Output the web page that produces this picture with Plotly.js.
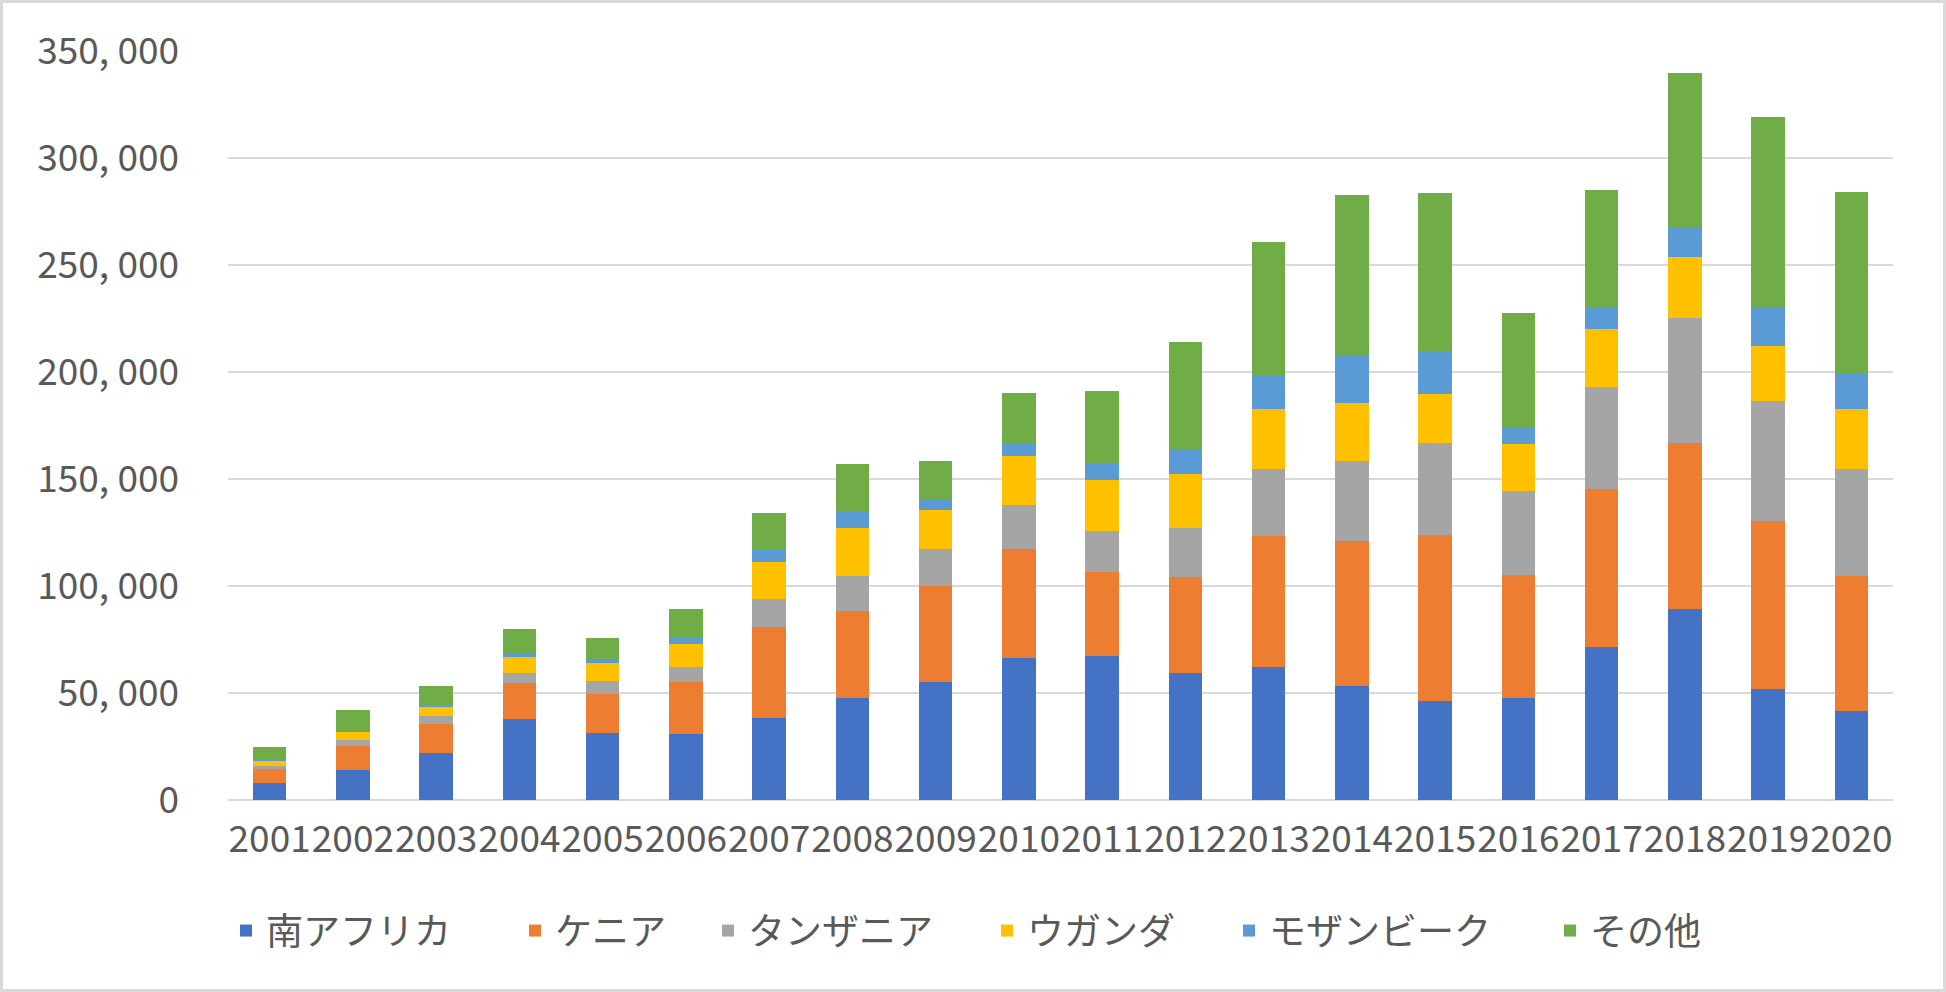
<!DOCTYPE html>
<html>
<head>
<meta charset="utf-8">
<script src="https://cdn.plot.ly/plotly-3.0.1.min.js"></script>
<style>
  html, body { margin: 0; padding: 0; background: #fff; }
  #wrap { position: relative; width: 1946px; height: 992px; }
  #chart { width: 1946px; height: 992px; }
  #frame { position: absolute; left: 0; top: 0; width: 1946px; height: 992px; box-sizing: border-box; border: 3px solid #D9D9D9; pointer-events: none; }
</style>
</head>
<body>
<div id="wrap"><div id="chart"></div><div id="frame"></div></div>
<script>
const years = ['2001','2002','2003','2004','2005','2006','2007','2008','2009','2010','2011','2012','2013','2014','2015','2016','2017','2018','2019','2020'];
const seriesNames = ['南アフリカ','ケニア','タンザニア','ウガンダ','モザンビーク','その他'];
const southAfrica = [7800,13900,21900,37800,31300,30800,38300,47700,55200,66400,67300,59200,62200,53300,46100,47700,71400,89400,51700,41400];
const kenya       = [6600,11300,13700,16900,18200,24400,42500,40700,45000,51100,39400,45200,61400,67500,77800,57500,74100,77300,78800,63400];
const tanzania    = [1700,2800,3800,4700,6000,7000,13300,16400,17300,20500,18800,22900,30900,37500,42800,39300,47600,58400,55800,49700];
const uganda      = [2200,3700,4000,7200,8700,10800,17000,22500,18000,22800,24000,24900,28100,27200,22900,21900,26800,28700,26000,28100];
const mozambique  = [300,200,800,2200,1900,2800,5900,7100,5100,5400,7800,11200,16200,22600,20400,8100,10100,13900,17700,17100];
const others      = [6100,10200,9200,10900,9400,13300,16900,22500,17700,24100,34000,50800,62100,74800,73800,52900,55200,72100,89000,84300];
const yTickVals = [0,50000,100000,150000,200000,250000,300000,350000];

const seriesValues = [southAfrica, kenya, tanzania, uganda, mozambique, others];
const colors = ['#4472C4','#ED7D31','#A5A5A5','#FFC000','#5B9BD5','#70AD47'];

const W = 1946, H = 992;
const m = {l: 228, r: 53, t: 51, b: 192};
const pw = W - m.l - m.r, ph = H - m.t - m.b;
const legendMarkerX = [240, 529, 722, 1001, 1243, 1564];
const legendCenterY = 931;

const fontFam = '"Noto Sans CJK JP", "Noto Sans", sans-serif';
const txtColor = '#595959';

const traces = seriesNames.map((name, i) => ({
  type: 'bar',
  name: name,
  x: years,
  y: seriesValues[i],
  marker: {color: colors[i], line: {width: 0}},
  legend: i === 0 ? 'legend' : 'legend' + (i + 1),
  showlegend: true,
  hoverinfo: 'x+y+name'
}));

const layout = {
  width: W, height: H,
  margin: m,
  barmode: 'stack',
  bargap: 0.6,
  showlegend: true,
  paper_bgcolor: '#fff',
  plot_bgcolor: '#fff',
  font: {family: fontFam, color: txtColor, size: 37},
  xaxis: {
    type: 'category',
    showgrid: false,
    showline: false,
    zeroline: false,
    ticks: '',
    tickangle: 0,
    ticklabelstandoff: 14,
    tickfont: {family: fontFam, size: 37, color: txtColor}
  },
  yaxis: {
    range: [0, 350000],
    tickvals: yTickVals,
    ticktext: yTickVals.map(v => v === 0 ? '0' : v.toLocaleString('en-US').replace(/,/g, ', ')),
    showgrid: true,
    gridcolor: '#D9D9D9',
    gridwidth: 2,
    zeroline: true,
    zerolinecolor: '#D9D9D9',
    zerolinewidth: 2,
    showline: false,
    ticks: '',
    ticklabelstandoff: 48,
    tickfont: {family: fontFam, size: 37, color: txtColor}
  }
};

seriesNames.forEach((n, i) => {
  const key = i === 0 ? 'legend' : 'legend' + (i + 1);
  layout[key] = {
    visible: true,
    orientation: 'h',
    x: (legendMarkerX[i] - 14 - m.l) / pw,
    xanchor: 'left',
    y: (m.t + ph - legendCenterY) / ph,
    yanchor: 'middle',
    bgcolor: 'rgba(0,0,0,0)',
    borderwidth: 0,
    font: {family: fontFam, size: 37, color: txtColor},
    traceorder: 'normal'
  };
});

Plotly.newPlot('chart', traces, layout, {displayModeBar: false, staticPlot: true});
</script>
</body>
</html>
